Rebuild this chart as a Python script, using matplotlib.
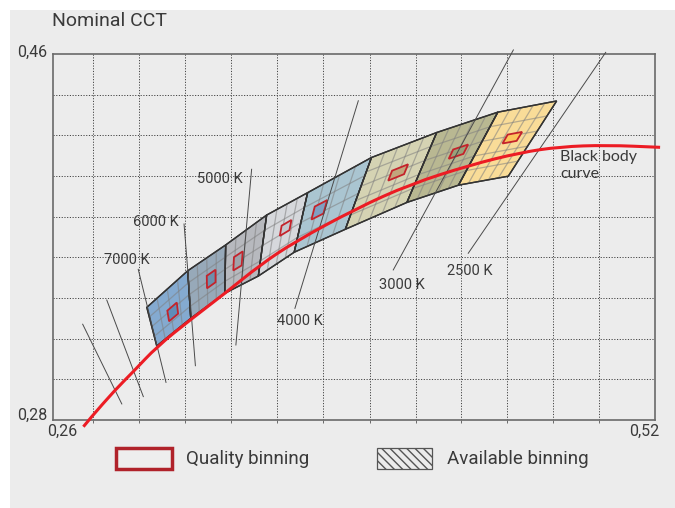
import matplotlib
matplotlib.use("Agg")
import matplotlib.pyplot as plt
import numpy as np
from matplotlib.patches import Polygon, Rectangle, PathPatch
from matplotlib.path import Path

W, H = 675, 508

# black body curve
bb_x = [0.2730, 0.2759, 0.2867, 0.2946, 0.3047, 0.3191, 0.3342, 0.3493,
        0.3644, 0.3911, 0.4141, 0.4401, 0.4617, 0.4790, 0.4991, 0.5222]
bb_y = [0.2767, 0.2808, 0.2948, 0.3038, 0.3160, 0.3292, 0.3423, 0.3562,
        0.3677, 0.3841, 0.3959, 0.4054, 0.4115, 0.4144, 0.4152, 0.4141]

# bin edges (isotherms), top end and bottom end
edge_top_x = [0.3004, 0.3181, 0.3345, 0.3522, 0.3699, 0.3975, 0.4257, 0.4521, 0.4775]
edge_top_y = [0.3354, 0.3534, 0.3661, 0.3808, 0.3918, 0.4091, 0.4214, 0.4314, 0.4369]
edge_bot_x = [0.3047, 0.3194, 0.3341, 0.3486, 0.3641, 0.3862, 0.4128, 0.4351, 0.4566]
edge_bot_y = [0.3164, 0.3300, 0.3423, 0.3508, 0.3625, 0.3738, 0.3870, 0.3955, 0.3999]

bin_colors = ["#84aad0", "#97a9b9", "#b7b9be", "#d6d8dc", "#aac5d1",
              "#d5d3b3", "#b9b892", "#f9dc98"]
bin_dark = ["#5f8db8", "#6d8fab", "#a0a3aa", "#c6c9cf", "#7f9fc2",
            "#c2a57c", "#9aa07a", "#fcc55c"]
bin_cols = [4, 4, 4, 4, 4, 5, 5, 5]
bin_rows = [4, 4, 4, 4, 4, 5, 5, 5]

# quality bin inside each bin: centre (u, v) and size
q_u = [0.55, 0.61, 0.34, 0.58, 0.30, 0.59, 0.61, 0.57]
q_v = [0.57, 0.50, 0.50, 0.43, 0.44, 0.42, 0.44, 0.43]
q_du = [0.25, 0.24, 0.23, 0.25, 0.21, 0.25, 0.26, 0.26]
q_dv = [0.25, 0.26, 0.26, 0.17, 0.21, 0.14, 0.13, 0.12]

# labels and leader lines
lab_names = ["7000 K", "6000 K", "5000 K", "4000 K", "3000 K", "2500 K"]
lab_x = [0.2916, 0.3044, 0.3319, 0.3664, 0.4107, 0.4398]
lab_y = [0.3587, 0.3775, 0.3984, 0.3287, 0.3464, 0.3534]
lead_x0 = [0.2727, 0.2831, 0.2967, 0.3165, 0.3457, 0.3918, 0.4588, 0.4987]
lead_y0 = [0.3271, 0.3390, 0.3541, 0.3764, 0.4033, 0.4370, 0.4620, 0.4608]
lead_x1 = [0.2896, 0.2989, 0.3087, 0.3214, 0.3389, 0.3644, 0.4069, 0.4393]
lead_y1 = [0.2879, 0.2915, 0.2985, 0.3067, 0.3169, 0.3349, 0.3538, 0.3620]

grid_x = [0.2773, 0.2972, 0.3170, 0.3369, 0.3568, 0.3767, 0.3968, 0.4166,
          0.4363, 0.4561, 0.4760, 0.4959]
grid_y = [0.30, 0.32, 0.34, 0.36, 0.38, 0.40, 0.42, 0.44]

TXT = "#3a3a3a"
plt.rcParams['font.family'] = ['Roboto', 'DejaVu Sans']

fig = plt.figure(figsize=(W / 100, H / 100), dpi=100, facecolor="white")
fig.patches.append(Rectangle((10 / W, 0), 1, (H - 10) / H, transform=fig.transFigure,
                             facecolor="#ececec", edgecolor="none", zorder=-10))

ax = fig.add_axes([53.3 / W, 1 - 420 / H, 601.7 / W, 366 / H])
ax.set_facecolor("#ececec")
ax.set_xlim(0.26, 0.52)
ax.set_ylim(0.28, 0.46)
ax.set_xticks(grid_x)
ax.set_yticks(grid_y)
ax.tick_params(axis="x", length=2.5, width=0.6, color="#555555", labelbottom=False)
ax.tick_params(axis="y", length=0, labelleft=False)
ax.grid(True, color="#444444", linestyle=(0, (1.2, 1.6)), linewidth=0.7)
for s in ax.spines.values():
    s.set_color("#6a6a6a")
    s.set_linewidth(1.2)


def bil(c, u, v):
    tl, tr, bl, br = c
    return (1 - v) * ((1 - u) * tl + u * tr) + v * ((1 - u) * bl + u * br)


for i in range(len(bin_colors)):
    tl = np.array([edge_top_x[i], edge_top_y[i]])
    tr = np.array([edge_top_x[i + 1], edge_top_y[i + 1]])
    bl = np.array([edge_bot_x[i], edge_bot_y[i]])
    br = np.array([edge_bot_x[i + 1], edge_bot_y[i + 1]])
    c = (tl, tr, bl, br)
    ax.add_patch(Polygon([tl, tr, br, bl], closed=True, facecolor=bin_colors[i],
                         edgecolor="#333333", linewidth=1.0, zorder=2))
    for k in range(1, bin_cols[i]):
        p0, p1 = bil(c, k / bin_cols[i], 0), bil(c, k / bin_cols[i], 1)
        ax.plot([p0[0], p1[0]], [p0[1], p1[1]], color="#7f7f7f", alpha=0.55,
                linewidth=0.9, zorder=2.1)
    for k in range(1, bin_rows[i]):
        p0, p1 = bil(c, 0, k / bin_rows[i]), bil(c, 1, k / bin_rows[i])
        ax.plot([p0[0], p1[0]], [p0[1], p1[1]], color="#7f7f7f", alpha=0.55,
                linewidth=0.9, zorder=2.1)
    u0, u1 = q_u[i] - q_du[i] / 2, q_u[i] + q_du[i] / 2
    v0, v1 = q_v[i] - q_dv[i] / 2, q_v[i] + q_dv[i] / 2
    q = [bil(c, u0, v0), bil(c, u1, v0), bil(c, u1, v1), bil(c, u0, v1)]
    ax.add_patch(Polygon(q, closed=True, facecolor=bin_dark[i], edgecolor="#c4232b",
                         linewidth=1.3, zorder=2.3))
    ax.add_patch(Polygon([tl, tr, br, bl], closed=True, facecolor="none",
                         edgecolor="#333333", linewidth=1.0, zorder=2.4))

for i in range(len(lead_x0)):
    ax.plot([lead_x0[i], lead_x1[i]], [lead_y0[i], lead_y1[i]], color="#4a4a4a",
            linewidth=0.7, zorder=2.6, clip_on=False)

# smooth curve through the read points (quadratic bezier segments)
pts = np.column_stack([bb_x, bb_y])
verts = [pts[0]]
codes = [Path.MOVETO]
for k in range(1, len(pts) - 1):
    verts += [pts[k], (pts[k] + pts[k + 1]) / 2]
    codes += [Path.CURVE3, Path.CURVE3]
verts.append(pts[-1])
codes.append(Path.LINETO)
ax.add_patch(PathPatch(Path(verts, codes), facecolor="none", edgecolor="#ec1c24",
                       linewidth=2.2, zorder=3, clip_on=False, capstyle="butt"))

for i in range(len(lab_names)):
    ax.text(lab_x[i], lab_y[i], lab_names[i], ha="center", va="center",
            fontsize=10.5, color=TXT, zorder=4)
ax.text(0.4790, 0.4052, "Black body\ncurve", ha="left", va="center", fontsize=11.5,
        color=TXT, family=["Lato", "DejaVu Sans"], linespacing=1.2, zorder=4)


def ftext(px, py, s, **kw):
    fig.text(px / W, 1 - py / H, s, color=TXT, **kw)


ftext(52, 21, "Nominal CCT", fontsize=14, ha="left", va="center")
ftext(32.5, 52, "0,46", fontsize=11.5, ha="center", va="center")
ftext(32.3, 415.7, "0,28", fontsize=11.5, ha="center", va="center")
ftext(62, 431.7, "0,26", fontsize=11.5, ha="center", va="center")
ftext(644, 431.7, "0,52", fontsize=11.5, ha="center", va="center")

fig.patches.append(Rectangle((116 / W, 1 - 469 / H), 56 / W, 21 / H,
                             transform=fig.transFigure, facecolor="#eeeeee",
                             edgecolor="#b0222a", linewidth=2.5))
fig.patches.append(Rectangle((377 / W, 1 - 468.7 / H), 55.3 / W, 21 / H,
                             transform=fig.transFigure, facecolor="#ececec",
                             edgecolor="#555555", linewidth=0.9, hatch="\\\\\\\\"))
ftext(186, 459.5, "Quality binning", fontsize=13.5, ha="left", va="center")
ftext(447, 459.5, "Available binning", fontsize=13.5, ha="left", va="center")

fig.savefig("out.png", dpi=100, facecolor=fig.get_facecolor())
